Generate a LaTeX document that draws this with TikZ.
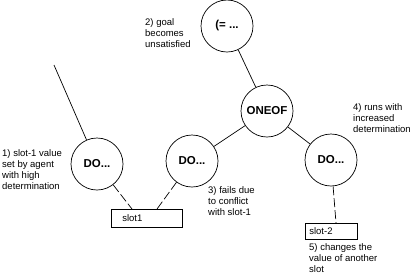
\documentclass[tikz,border=0pt]{standalone}
\usepackage{fontspec}
\setmainfont{Liberation Sans}
\usetikzlibrary{calc}
\begin{document}
\begin{tikzpicture}[x=1pt,y=-1pt,
  circ/.style={circle,draw,line width=0.7pt,minimum size=52pt,inner sep=0pt,font=\fontsize{11.5}{13}\selectfont\bfseries},
  note/.style={anchor=north west,inner sep=0pt,align=left,font=\fontsize{9.5}{11}\selectfont},
  slotbox/.style={draw,line width=0.7pt,align=left,inner ysep=0pt,anchor=north west,font=\fontsize{9.5}{11}\selectfont},
  link/.style={line width=0.7pt},
  dlink/.style={line width=0.7pt,dash pattern=on 9pt off 3pt}]
\useasboundingbox[fill=white] (0,0) rectangle (414,274);
\node[circ] (goal) at (227,26) {(= ...};
\node[circ] (oneof) at (267,111) {ONEOF};
\node[circ] (do1) at (97,164) {DO...};
\node[circ] (do2) at (192,161) {DO...};
\node[circ] (do3) at (331,160) {DO...};
\node[slotbox,text width=49pt,inner xsep=11pt,minimum height=18pt] (slot1) at (111,209) {slot1};
\node[slotbox,text width=44pt,inner xsep=4pt,minimum height=16pt] (slot2) at (305,223) {slot-2};
\node[note] (n1) at (2,149) {1) slot-1 value\\set by agent\\with high\\determination};
\node[note] (n2) at (145,18) {2) goal\\becomes\\unsatisfied};
\node[note] (n3) at (208,186) {3) fails due\\to conflict\\with slot-1};
\node[note] (n4) at (353,103) {4) runs with\\increased\\determination};
\node[note] (n5) at (309,243) {5) changes the\\value of another\\slot};
\coordinate (tail) at (54,65);
\draw[link] (tail) -- (do1);
\draw[link] (goal) -- (oneof);
\draw[link] (oneof) -- (do2);
\draw[link] (oneof) -- (do3);
\draw[dlink] (do1) -- ([xshift=21pt]slot1.north west);
\draw[dlink] (do2) -- ([xshift=46pt]slot1.north west);
\draw[dlink] (do3) -- ([xshift=31pt]slot2.north west);
\end{tikzpicture}
\end{document}
